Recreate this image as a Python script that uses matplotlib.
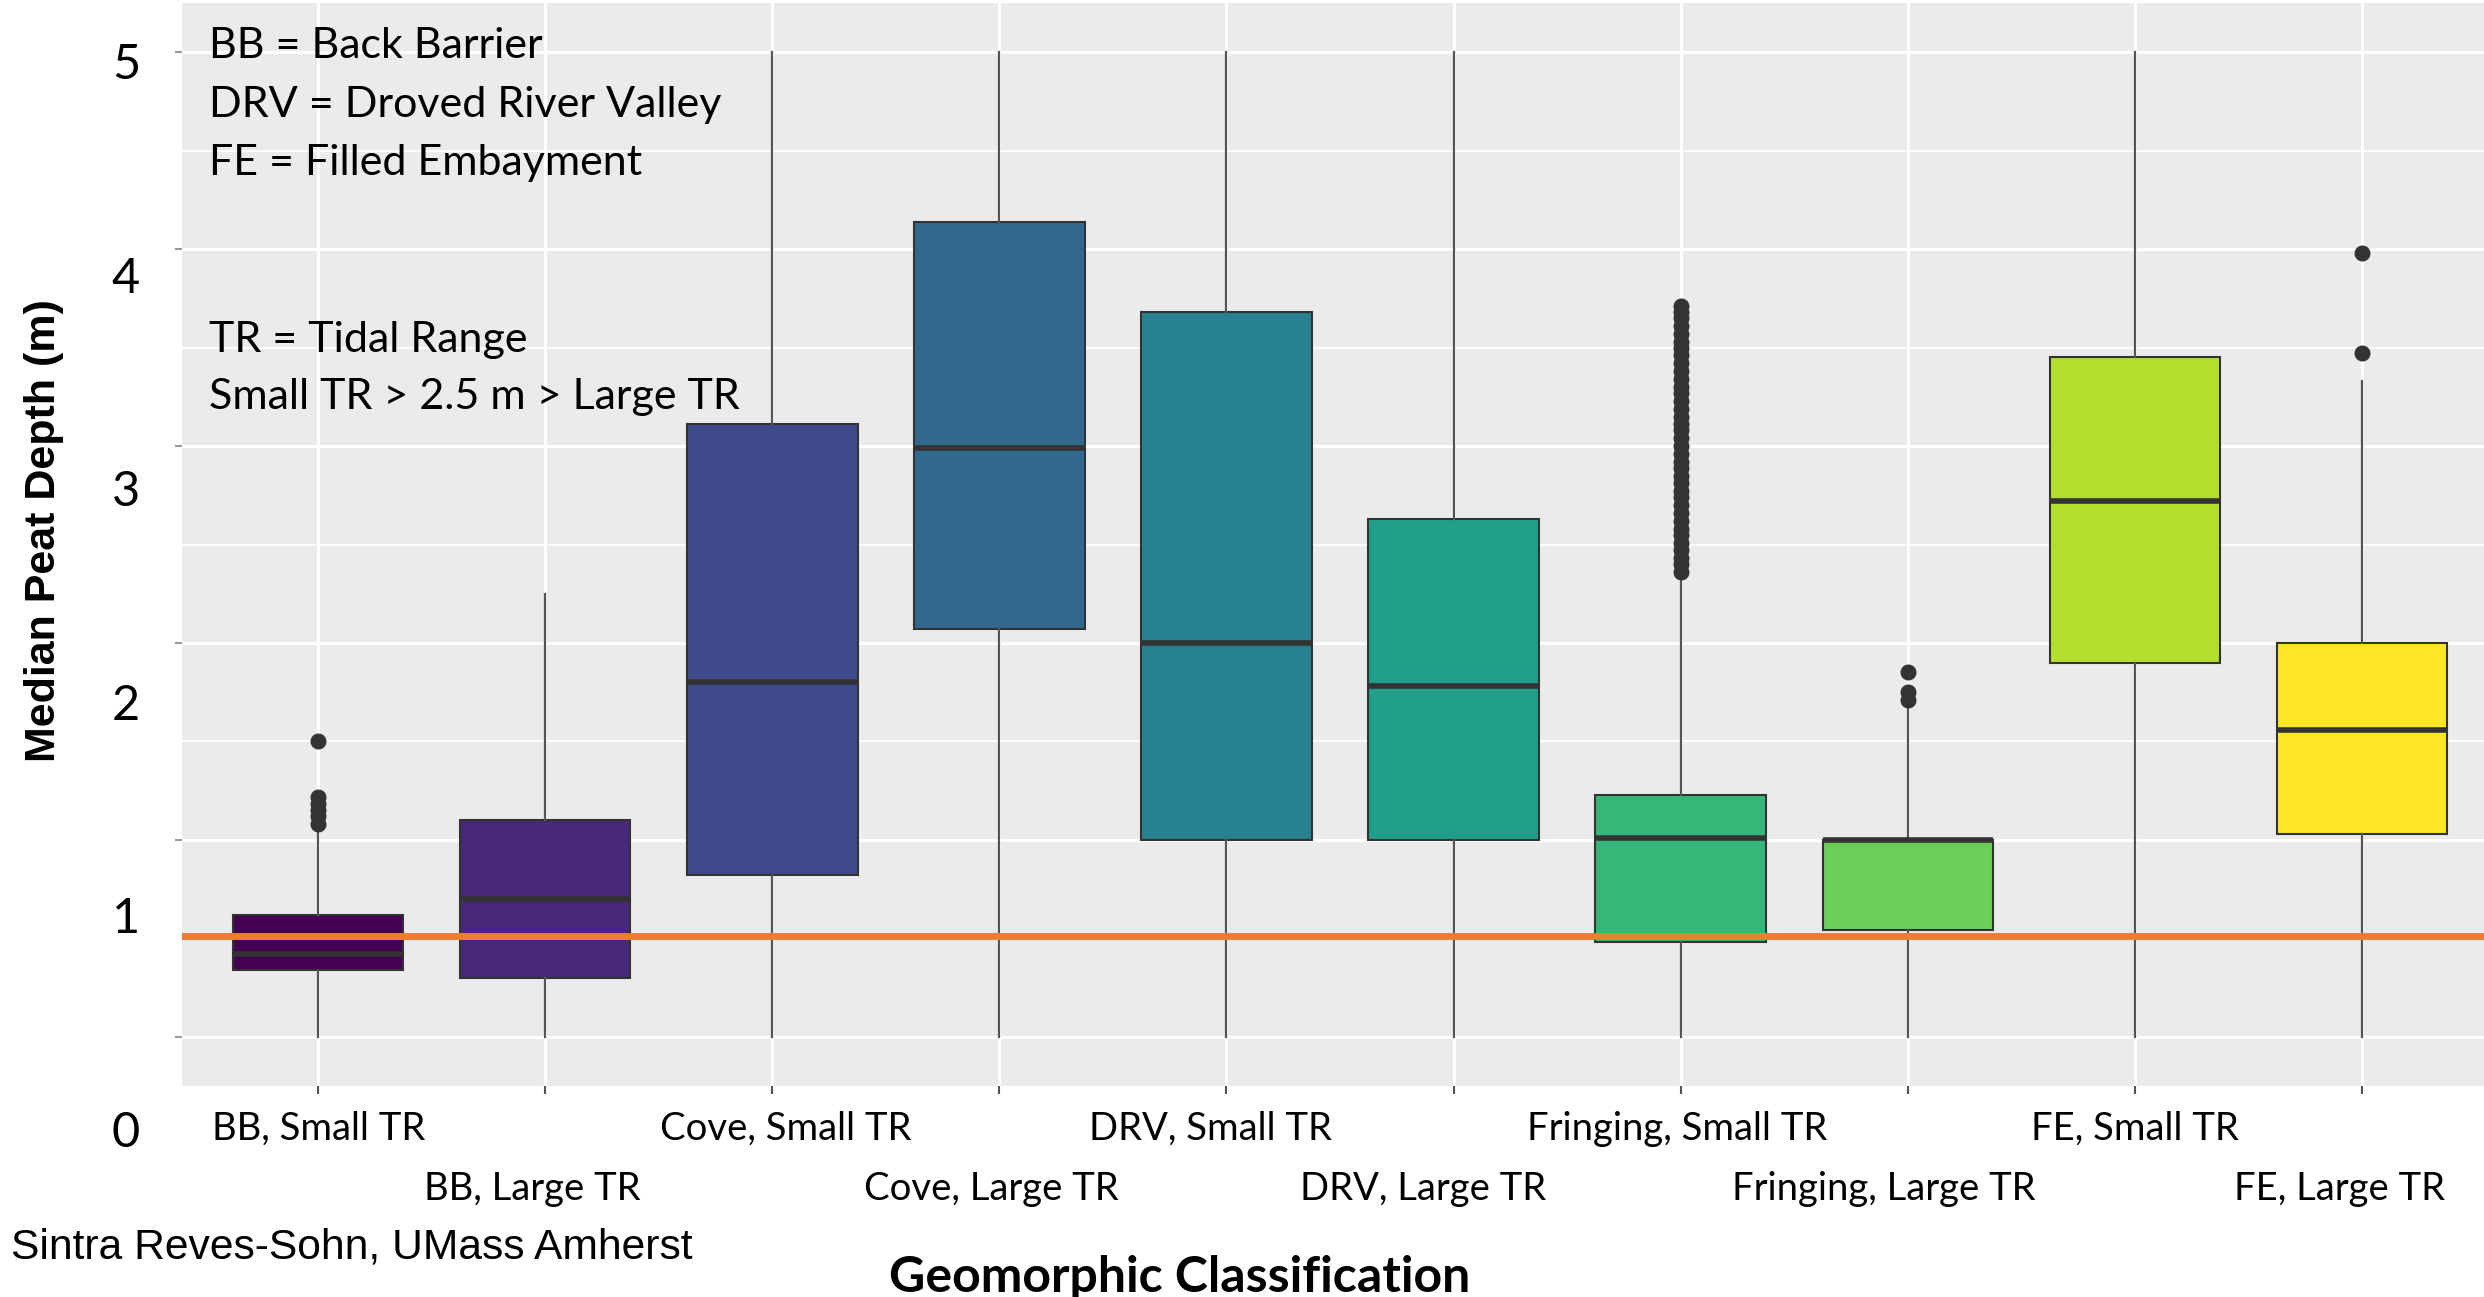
#!/usr/bin/env python3
"""
Median peat depth by geomorphic classification (boxplots, ggplot-like styling).

Output:
    out.png
"""

import matplotlib
matplotlib.use("Agg")
import matplotlib.pyplot as plt


W, H = 2484, 1297

CATEGORIES = [
    "BB, Small TR", "BB, Large TR",
    "Cove, Small TR", "Cove, Large TR",
    "DRV, Small TR", "DRV, Large TR",
    "Fringing, Small TR", "Fringing, Large TR",
    "FE, Small TR", "FE, Large TR",
]

# box statistics (m)
WHISK_LO = [0.00, 0.00, 0.00, 0.00, 0.00, 0.00, 0.00, 0.00, 0.00, 0.00]
Q1 = [0.34, 0.30, 0.82, 2.07, 1.00, 1.00, 0.48, 0.54, 1.90, 1.03]
MEDIAN = [0.42, 0.70, 1.80, 2.99, 2.00, 1.78, 1.01, 1.00, 2.72, 1.56]
Q3 = [0.62, 1.10, 3.11, 4.14, 3.68, 2.63, 1.23, 1.00, 3.45, 2.00]
WHISK_HI = [1.04, 2.25, 5.00, 5.00, 5.00, 5.00, 2.35, 1.67, 5.00, 3.33]

OUTLIERS = [
    [1.08, 1.12, 1.15, 1.18, 1.22, 1.50],
    [],
    [],
    [],
    [],
    [],
    [2.36, 2.40, 2.43, 2.47, 2.51, 2.55, 2.58, 2.62, 2.66, 2.70, 2.74,
     2.77, 2.81, 2.85, 2.89, 2.92, 2.96, 3.00, 3.04, 3.08, 3.11, 3.15,
     3.19, 3.23, 3.27, 3.30, 3.34, 3.38, 3.42, 3.46, 3.50, 3.53, 3.57,
     3.61, 3.65, 3.68, 3.71],
    [1.71, 1.75, 1.85],
    [],
    [3.47, 3.98],
]

THRESHOLD = 0.51

VIRIDIS_10 = [
    "#440154", "#482878", "#3E4A89", "#31688E", "#26828E",
    "#1F9E89", "#35B779", "#6DCD59", "#B4DE2C", "#FDE725",
]

SLIDE_Y_LABELS = ["0", "1", "2", "3", "4", "5"]

NOTE_TOP = ["BB = Back Barrier", "DRV = Droved River Valley", "FE = Filled Embayment"]
NOTE_BOTTOM = ["TR = Tidal Range", "Small TR > 2.5 m > Large TR"]

# hand-placed nudges (px) for the staggered category labels
LABEL_NUDGE = [0, -13, 13, -8, -16, -30, -3, -24, 0, -22]


def fx(px):
    return px / W


def fy(py):
    return 1 - py / H


def main():
    fig = plt.figure(figsize=(W / 100, H / 100), dpi=100)
    fig.patch.set_facecolor("white")

    ax = fig.add_axes([fx(182), fy(1086), 2316 / W, 1083 / H])
    ax.set_facecolor("#EBEBEB")
    for sp in ax.spines.values():
        sp.set_visible(False)

    ax.set_xlim(-0.6, 9.6)
    ax.set_ylim(-0.25, 5.25)

    # ggplot-style grid
    for v in range(6):
        ax.axhline(v, color="white", lw=2.2, zorder=0)
    for v in [0.5, 1.5, 2.5, 3.5, 4.5]:
        ax.axhline(v, color="white", lw=1.3, zorder=0)
    for i in range(len(CATEGORIES)):
        ax.axvline(i, color="white", lw=2.2, zorder=0)

    stats = []
    for i, name in enumerate(CATEGORIES):
        stats.append({
            "label": name,
            "whislo": WHISK_LO[i],
            "q1": Q1[i],
            "med": MEDIAN[i],
            "q3": Q3[i],
            "whishi": WHISK_HI[i],
            "fliers": OUTLIERS[i],
        })

    bp = ax.bxp(
        stats,
        positions=list(range(len(CATEGORIES))),
        widths=0.75,
        patch_artist=True,
        showcaps=False,
        boxprops=dict(edgecolor="#333333", linewidth=1.5),
        whiskerprops=dict(color="#555555", linewidth=1.6),
        medianprops=dict(color="#333333", linewidth=4),
        flierprops=dict(marker="o", markersize=10.5, markerfacecolor="#333333",
                        markeredgecolor="#333333", linestyle="none"),
        manage_ticks=False,
    )
    for box, color in zip(bp["boxes"], VIRIDIS_10):
        box.set_facecolor(color)

    ax.axhline(THRESHOLD, color="#ED7D31", lw=5, zorder=10)

    ax.set_xticks(range(len(CATEGORIES)))
    ax.set_xticklabels([])
    ax.set_yticks(range(6))
    ax.set_yticklabels([])
    ax.tick_params(axis="x", length=6, width=1.5, color="#555555")
    ax.tick_params(axis="y", length=5, width=1.5, color="#999999")

    # category labels on two staggered rows
    x_disp = ax.transData.transform([(i, 0) for i in range(len(CATEGORIES))])[:, 0]
    for i, name in enumerate(CATEGORIES):
        y = fy(1129) if i % 2 == 0 else fy(1189)
        x = fx(x_disp[i] + LABEL_NUDGE[i])
        fig.text(x, y, name, ha="center", va="center",
                 fontsize=27.5, family="Lato", color="black")

    # depth labels beside the panel
    for k, lab in enumerate(SLIDE_Y_LABELS):
        fig.text(fx(126), fy(1133 - k * 213.6), lab, ha="center", va="center",
                 fontsize=35, family="Lato", color="black")

    for k, line in enumerate(NOTE_TOP):
        fig.text(fx(209), fy(58 + k * 58.5), line, ha="left", va="baseline",
                 fontsize=31, family="Lato", color="black")
    for k, line in enumerate(NOTE_BOTTOM):
        fig.text(fx(209), fy(352 + k * 57), line, ha="left", va="baseline",
                 fontsize=31, family="Lato", color="black")

    fig.text(fx(44), fy(531), "Median Peat Depth (m)", rotation=90,
             ha="center", va="center", fontsize=31, fontweight="bold",
             family="Liberation Sans", color="black")

    fig.text(fx(1180), fy(1278), "Geomorphic Classification", ha="center",
             va="center", fontsize=36, fontweight="bold", family="Lato",
             color="black")

    fig.text(fx(11), fy(1248), "Sintra Reves-Sohn, UMass Amherst", ha="left",
             va="center", fontsize=30.7, family="Liberation Sans", color="black")

    fig.savefig("out.png", dpi=100)
    plt.close(fig)


if __name__ == "__main__":
    main()
